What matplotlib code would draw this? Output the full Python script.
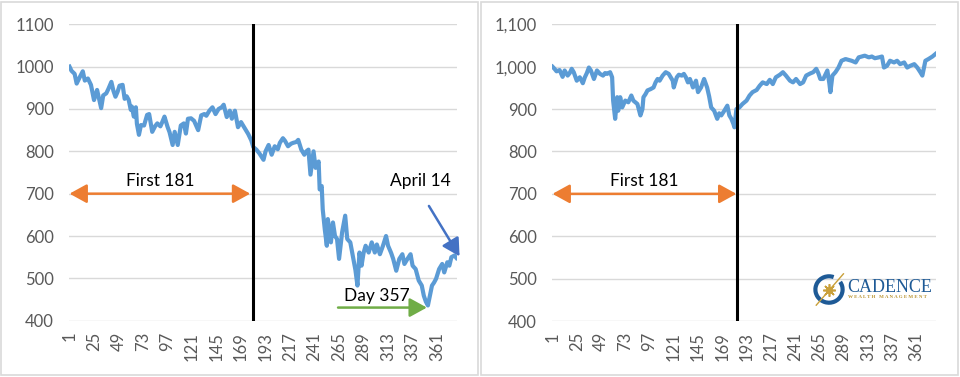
import matplotlib
matplotlib.use("Agg")
import matplotlib.pyplot as plt
from matplotlib.patches import Rectangle, Arc
from matplotlib.ticker import FuncFormatter

# ---------------------------------------------------------------------------
# Data
# ---------------------------------------------------------------------------

n_days = 380
tick_days = list(range(1, 362, 24))

left_days = [1, 3, 6, 8, 11, 14, 16, 19, 22, 25, 28, 32, 34, 37, 39, 42, 44, 46, 48, 50,
             53, 55, 57, 59, 61, 62, 64, 66, 67, 69, 71, 74, 77, 79, 82, 85, 87, 90, 92, 94,
             97, 99, 102, 104, 107, 110, 113, 115, 117, 120, 123, 127, 130, 133, 135, 138, 141, 144, 147, 150,
             152, 155, 158, 160, 163, 166, 169, 173, 176, 179, 181, 184, 187, 191, 193, 196, 199, 202, 205, 207,
             210, 212, 215, 218, 220, 223, 225, 228, 231, 233, 235, 237, 240, 242, 245, 246, 248, 249, 251, 253,
             254, 257, 259, 261, 263, 265, 268, 271, 273, 276, 279, 281, 283, 285, 287, 289, 291, 294, 297, 300,
             302, 305, 308, 311, 313, 316, 318, 321, 324, 327, 329, 332, 335, 337, 340, 343, 346, 348, 350, 352,
             353, 356, 358, 360, 363, 366, 368, 371, 373, 375, 378, 380]
left_vals = [1000, 990, 983, 960, 975, 989, 967, 972, 957, 921, 945, 902, 932, 937, 947, 964, 943, 929, 940, 955,
             957, 924, 930, 921, 898, 906, 882, 904, 865, 839, 862, 861, 886, 888, 846, 860, 866, 859, 870, 882,
             858, 845, 815, 846, 815, 861, 866, 842, 877, 878, 872, 850, 885, 888, 884, 896, 904, 888, 900, 904,
             910, 881, 896, 877, 896, 857, 869, 853, 841, 826, 810, 804, 795, 780, 800, 815, 792, 812, 805, 820,
             831, 825, 812, 818, 820, 822, 827, 804, 792, 800, 804, 745, 800, 761, 776, 710, 718, 663, 616, 577,
             640, 585, 632, 600, 593, 546, 609, 648, 593, 585, 546, 520, 483, 561, 530, 560, 577, 561, 585, 561,
             580, 557, 577, 600, 577, 560, 546, 518, 546, 557, 534, 546, 557, 530, 522, 495, 483, 459, 445, 436,
             448, 483, 490, 499, 522, 534, 514, 538, 530, 550, 554, 548]

right_days = [1, 3, 5, 8, 11, 13, 16, 18, 20, 22, 25, 28, 31, 33, 35, 37, 39, 42, 45, 48,
              51, 53, 55, 58, 60, 61, 63, 65, 66, 68, 70, 73, 76, 79, 81, 85, 88, 90, 91, 93,
              95, 98, 101, 103, 105, 107, 110, 113, 116, 118, 120, 121, 124, 126, 129, 131, 133, 135, 137, 140,
              143, 145, 148, 151, 154, 156, 158, 161, 164, 166, 168, 171, 174, 176, 178, 180, 181, 183, 186, 189,
              193, 196, 199, 203, 206, 209, 213, 216, 219, 222, 226, 229, 232, 236, 239, 242, 246, 249, 252, 256,
              259, 262, 264, 266, 269, 273, 275, 276, 278, 281, 284, 287, 291, 294, 297, 301, 304, 307, 310, 314,
              317, 320, 324, 327, 329, 332, 335, 339, 342, 345, 349, 352, 355, 359, 362, 365, 367, 370, 373, 377,
              380]
right_vals = [1000, 995, 989, 992, 976, 991, 979, 985, 995, 987, 967, 975, 961, 975, 985, 998, 991, 971, 991, 983,
              979, 985, 983, 987, 975, 920, 877, 928, 896, 928, 904, 920, 916, 932, 920, 912, 885, 900, 928, 935,
              944, 947, 951, 963, 971, 967, 979, 987, 983, 975, 967, 951, 975, 981, 979, 983, 975, 963, 971, 951,
              967, 940, 951, 971, 951, 930, 904, 896, 877, 890, 885, 896, 908, 885, 877, 865, 857, 900, 904, 912,
              920, 932, 940, 945, 955, 963, 959, 969, 959, 975, 981, 987, 979, 967, 963, 971, 959, 963, 979, 984,
              987, 995, 985, 971, 971, 991, 960, 940, 979, 987, 998, 1014, 1018, 1016, 1014, 1010, 1022, 1024, 1026, 1022,
              1024, 1020, 1022, 1024, 998, 1002, 1014, 1010, 1014, 1006, 1010, 998, 1002, 1006, 998, 987, 979, 1014, 1018, 1024,
              1030]

# annotations: (day, value)
left_split_day = 181
right_split_day = 184
left_first_arrow = (1, 178, 700)
right_first_arrow = (1, 183, 700)
april_arrow = ((353, 671), (383, 552))
day357_arrow = ((264, 431), (351, 431))

# ---------------------------------------------------------------------------
# Style
# ---------------------------------------------------------------------------

LINE = "#5B9BD5"
GRID = "#D9D9D9"
TICK = "#595959"
ORANGE = "#ED7D31"
GREEN = "#70AD47"
DBLUE = "#4472C4"
FONT = "Lato"

plt.rcParams["font.family"] = [FONT, "DejaVu Sans"]

fig = plt.figure(figsize=(9.6, 3.77), dpi=100)
W, H = 960, 377


def px_axes(x0, y0, x1, y1):
    """Add axes from pixel box (top-left origin)."""
    return fig.add_axes([x0 / W, 1 - y1 / H, (x1 - x0) / W, (y1 - y0) / H])


def style_axes(ax, comma=False):
    ax.set_xlim(0.5, n_days + 0.5)
    ax.set_ylim(400, 1100)
    ax.set_yticks(range(400, 1101, 100))
    ax.set_xticks(tick_days)
    ax.set_xticklabels([str(d) for d in tick_days], rotation=90)
    for s in ax.spines.values():
        s.set_visible(False)
    ax.grid(axis="y", color=GRID, lw=1.0)
    ax.set_axisbelow(True)
    ax.tick_params(axis="both", length=0, labelsize=12, colors=TICK)
    ax.tick_params(axis="y", pad=11)
    ax.tick_params(axis="x", pad=8)
    if comma:
        ax.yaxis.set_major_formatter(FuncFormatter(lambda v, p: f"{int(v):,}"))
    ax.patch.set_alpha(0)


def arrow(ax, start, end, color, style="-|>"):
    ax.annotate("", xy=end, xytext=start, annotation_clip=False,
                arrowprops=dict(arrowstyle=f"{style},head_length=1.0,head_width=0.55",
                                color=color, lw=1.8, mutation_scale=10.5,
                                shrinkA=0, shrinkB=0), zorder=5)


# panel borders
for x0 in (1, 481):
    fig.patches.append(Rectangle((x0 / W, 2 / H), 477 / W, 373 / H, transform=fig.transFigure,
                                 fill=False, ec=GRID, lw=1.2))

ax1 = px_axes(69, 24.3, 457, 320.7)
ax2 = px_axes(552, 24.3, 936, 321)
style_axes(ax1)
style_axes(ax2, comma=True)

ax1.plot(left_days, left_vals, color=LINE, lw=3.0, solid_joinstyle="round", zorder=3)
ax2.plot(right_days, right_vals, color=LINE, lw=3.0, solid_joinstyle="round", zorder=3)

# split lines
ax1.plot([left_split_day, left_split_day], [400, 1100], color="black", lw=2.2, zorder=4)
ax2.plot([right_split_day, right_split_day], [400, 1100], color="black", lw=2.2, zorder=4)

# "First 181" arrows
for ax, (a, b, y) in ((ax1, left_first_arrow), (ax2, right_first_arrow)):
    arrow(ax, (a, y), (b, y), ORANGE, style="<|-|>")
    ax.text((a + b) / 2, y + 12, "First 181", ha="center", va="bottom", fontsize=12.5, color="black")

# April 14
arrow(ax1, april_arrow[0], april_arrow[1], DBLUE)
ax1.text(345, 712, "April 14", ha="center", va="bottom", fontsize=12.5, color="black")

# Day 357
arrow(ax1, day357_arrow[0], day357_arrow[1], GREEN)
ax1.text(302, 440, "Day 357", ha="center", va="bottom", fontsize=12.5, color="black")

# Cadence logo
lax = px_axes(812, 273, 846, 306)
lax.set_xlim(-1, 1)
lax.set_ylim(-1, 1)
lax.axis("off")
lax.add_patch(Arc((0, 0), 1.6, 1.6, theta1=70, theta2=395, color="#1E5A96", lw=3))
lax.plot([-0.75, 0.85], [-0.95, 0.95], color="#C9A03A", lw=1.0)
lax.plot([0], [0], marker=(8, 2, 0), ms=9, color="#C9A03A", mew=1.2)
lax.plot([0], [0], marker="o", ms=4, color="#C9A03A")
fig.text(847 / W, 1 - 287 / H, "CADENCE", fontsize=13, family="Liberation Serif",
         color="#1E5A96", ha="left", va="center")
fig.text(848 / W, 1 - 297 / H, "W E A L T H   M A N A G E M E N T", fontsize=3.6, family="Liberation Serif",
         weight="bold", color="#B8922E", ha="left", va="center")

fig.savefig("out.png", dpi=100)
